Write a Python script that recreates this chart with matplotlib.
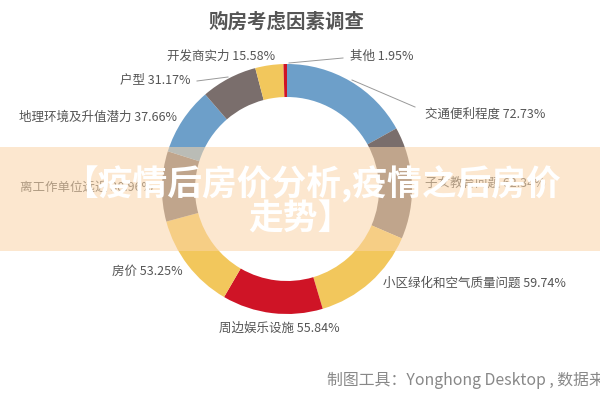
import matplotlib
matplotlib.use('Agg')
import matplotlib.pyplot as plt
from matplotlib.patches import Rectangle

plt.rcParams['font.family'] = ['Noto Sans CJK SC', 'DejaVu Sans']

# 数据（多选题，百分比 = 选择人数 / 总人数）
categories = ['交通便利程度', '子女教育问题', '小区绿化和空气质量问题', '周边娱乐设施',
              '房价', '离工作单位远近', '地理环境及升值潜力', '户型', '开发商实力', '其他']
percents = [72.73, 62.34, 59.74, 55.84, 53.25, 38.96, 37.66, 31.17, 15.58, 1.95]
colors = ['#6d9fc9', '#7a6e6c', '#f2c75c', '#cf1426', '#f2c75c',
          '#7a6e6c', '#6d9fc9', '#7a6e6c', '#f2c75c', '#cf1426']

fig = plt.figure(figsize=(6, 4), dpi=100)
ax = fig.add_axes([0, 0, 1, 1])
ax.set_xlim(0, 600)
ax.set_ylim(0, 400)
ax.set_aspect('equal')
ax.axis('off')

cx, cy = 287, 211
ax.pie(percents, colors=colors, center=(cx, cy), radius=125,
       startangle=90, counterclock=False,
       wedgeprops=dict(width=33, linewidth=0))
ax.set_xlim(0, 600)
ax.set_ylim(0, 400)

ax.text(286, 378, '购房考虑因素调查', ha='center', va='center',
        fontsize=14, fontweight='bold', color='#555555')

# 标签位置 (x, y, 对齐)
pos = {
    '交通便利程度': (425, 286, 'left'),
    '子女教育问题': (425, 217, 'left'),
    '小区绿化和空气质量问题': (383, 117, 'left'),
    '周边娱乐设施': (279, 72, 'center'),
    '房价': (183, 129, 'right'),
    '离工作单位远近': (20, 213, 'left'),
    '地理环境及升值潜力': (177, 283, 'right'),
    '户型': (190, 320, 'right'),
    '开发商实力': (275, 344, 'right'),
    '其他': (350, 344, 'left'),
}
for name, p in zip(categories, percents):
    x, y, ha = pos[name]
    ax.text(x, y, f'{name} {p:.2f}%', ha=ha, va='center',
            fontsize=9, color='#555555')

# 引导线
lines = [((289, 337), (343, 342)),
         ((352, 320), (415, 293)),
         ((197, 319), (228, 323))]
for (x0, y0), (x1, y1) in lines:
    ax.plot([x0, x1], [y0, y1], color='#999999', linewidth=0.7)

ax.text(327, 20, '制图工具：Yonghong Desktop , 数据来源', ha='left', va='center',
        fontsize=11.4, color='#888888')

# 覆盖条
ax.add_patch(Rectangle((0, 149), 600, 104, facecolor=(0.98, 0.83, 0.66),
                       alpha=0.55, edgecolor='none', zorder=10))
ax.text(312, 216, '【疫情后房价分析,疫情之后房价', ha='center', va='center',
        fontsize=25, fontweight='bold', color='white', zorder=11)
ax.text(300, 181, '走势】', ha='center', va='center',
        fontsize=25, fontweight='bold', color='white', zorder=11)

fig.savefig('out.png', dpi=100)
